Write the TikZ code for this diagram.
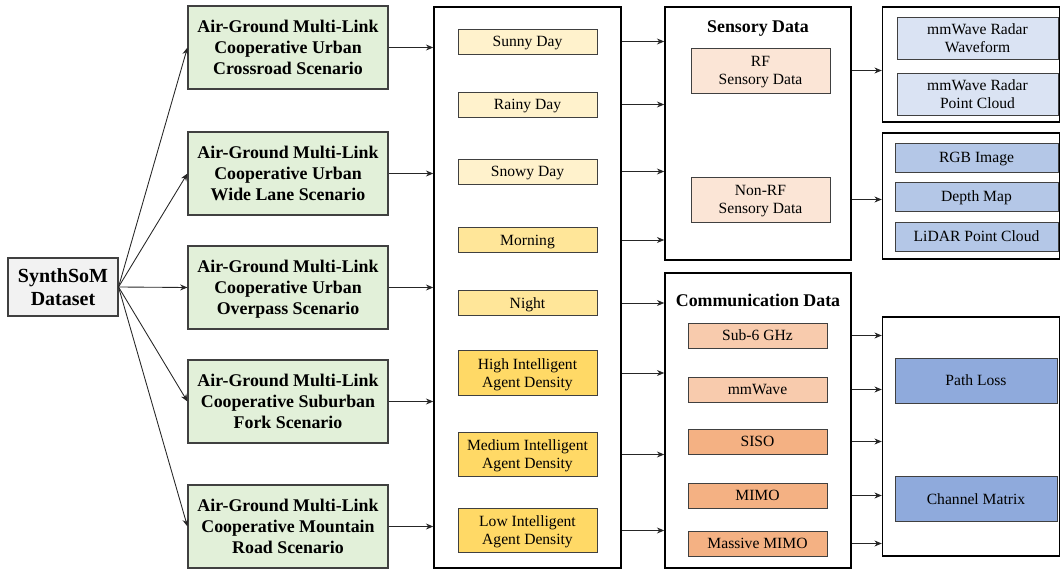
\documentclass[tikz,border=0pt]{standalone}
\usepackage{fontspec}
\setmainfont{Liberation Serif}
\usetikzlibrary{arrows.meta, positioning}
\definecolor{rootgray}{HTML}{F2F2F2}
\definecolor{scengreen}{HTML}{E2F0D9}
\definecolor{weatherlight}{HTML}{FFF2CC}
\definecolor{timemid}{HTML}{FFE699}
\definecolor{agentdark}{HTML}{FFD966}
\definecolor{sensepeach}{HTML}{FBE5D6}
\definecolor{bandpeach}{HTML}{F8CBAD}
\definecolor{antpeach}{HTML}{F4B183}
\definecolor{radarblue}{HTML}{DAE3F3}
\definecolor{visionblue}{HTML}{B4C7E7}
\definecolor{channelblue}{HTML}{8FAADC}
\tikzstyle{dataset} = [rectangle, draw=black!75, fill=rootgray, line width=0.8pt, minimum width=82.5pt, minimum height=43.5pt, text depth=0pt, align=center, font=\bfseries\fontsize{15}{17}\selectfont]
\tikzstyle{scenario} = [rectangle, draw=black!75, fill=scengreen, line width=0.8pt, minimum width=150pt, minimum height=62.25pt, text depth=0pt, align=center, font=\bfseries\fontsize{13.4}{15.75}\selectfont]
\tikzstyle{container} = [rectangle, draw=black, line width=1.1pt, minimum width=139.5pt]
\tikzstyle{item} = [rectangle, draw=black!75, line width=0.7pt, minimum width=104.25pt, minimum height=18.75pt, inner sep=1pt, text depth=0pt, align=center, font=\fontsize{11.7}{13.5}\selectfont]
\tikzstyle{result} = [item, minimum width=121.5pt]
\tikzstyle{title} = [text depth=0pt, font=\bfseries\fontsize{13.4}{15.75}\selectfont]
\tikzstyle{arrow} = [line width=0.65pt, draw=black!85, -{Stealth[length=5.5pt,width=4.5pt]}]

\begin{document}
\begin{tikzpicture}[x=0.75pt, y=-0.75pt]
\useasboundingbox (0,0) rectangle (1061,570);

% Dataset and scenarios
\node (synth) [dataset] at (63,287) {SynthSoM\\Dataset};
\node (crossroad) [scenario] at (288,47.5) {Air-Ground Multi-Link\\Cooperative Urban\\Crossroad Scenario};
\node (widelane) [scenario] at (288,173.5) {Air-Ground Multi-Link\\Cooperative Urban\\Wide Lane Scenario};
\node (overpass) [scenario] at (288,287.5) {Air-Ground Multi-Link\\Cooperative Urban\\Overpass Scenario};
\node (fork) [scenario] at (288,401.5) {Air-Ground Multi-Link\\Cooperative Suburban\\Fork Scenario};
\node (mountain) [scenario] at (288,526.5) {Air-Ground Multi-Link\\Cooperative Mountain\\Road Scenario};

% Conditions
\node (conditions) [container, minimum width=140.25pt, minimum height=420.75pt] at (527.5,287.5) {};
\node (sunny) [item, fill=weatherlight] at (527.5,41.5) {Sunny Day};
\node (rainy) [item, fill=weatherlight] at (527.5,104.5) {Rainy Day};
\node (snowy) [item, fill=weatherlight] at (527.5,171.5) {Snowy Day};
\node (morning) [item, fill=timemid] at (527.5,240) {Morning};
\node (night) [item, fill=timemid] at (527.5,303) {Night};
\node (high) [item, fill=agentdark, minimum height=33.5pt] at (527.5,373) {High Intelligent\\Agent Density};
\node (medium) [item, fill=agentdark, minimum height=33.5pt] at (527.5,454.5) {Medium Intelligent\\Agent Density};
\node (low) [item, fill=agentdark, minimum height=33.5pt] at (527.5,530.5) {Low Intelligent\\Agent Density};

% Sensory data
\node (sensory) [container, minimum height=189.75pt] at (758,133.5) {};
\node (sensTitle) [title] at (758,27) {Sensory Data};
\node (rf) [item, fill=sensepeach, minimum height=33.75pt] at (760.5,70.5) {RF\\Sensory Data};
\node (nonrf) [item, fill=sensepeach, minimum height=33.75pt] at (760.5,199.5) {Non-RF\\Sensory Data};

% Communication data
\node (comm) [container, minimum height=221.25pt] at (758,420.5) {};
\node (commTitle) [title] at (758,300) {Communication Data};
\node (sub6) [item, fill=bandpeach] at (757.5,335.5) {Sub-6 GHz};
\node (mmwave) [item, fill=bandpeach] at (757.5,389.5) {mmWave};
\node (siso) [item, fill=antpeach] at (757.5,441.5) {SISO};
\node (mimo) [item, fill=antpeach] at (757.5,495.5) {MIMO};
\node (massive) [item, fill=antpeach] at (757.5,543.5) {Massive MIMO};

% Modalities
\node (radar) [container, minimum width=132.75pt, minimum height=86.25pt] at (971,64.5) {};
\node (waveform) [result, fill=radarblue, minimum width=120.75pt, minimum height=31.5pt] at (977.5,38) {mmWave Radar\\Waveform};
\node (radarpc) [result, fill=radarblue, minimum width=120.75pt, minimum height=31.5pt] at (977.5,94) {mmWave Radar\\Point Cloud};
\node (vision) [container, minimum width=132.75pt, minimum height=94.5pt] at (971,196) {};
\node (rgb) [result, fill=visionblue, minimum width=122.25pt, minimum height=21.75pt] at (976.5,157.5) {RGB Image};
\node (depth) [result, fill=visionblue, minimum width=122.25pt, minimum height=21.75pt] at (976.5,196.5) {Depth Map};
\node (lidar) [result, fill=visionblue, minimum width=122.25pt, minimum height=21.75pt] at (976.5,236.5) {LiDAR Point Cloud};
\node (channel) [container, minimum width=132.75pt, minimum height=179.25pt] at (971,436.5) {};
\node (pathloss) [result, fill=channelblue, minimum height=33.75pt] at (976,380.5) {Path Loss};
\node (chmatrix) [result, fill=channelblue, minimum height=33.75pt] at (976,499) {Channel Matrix};

% Arrows
\foreach \s in {crossroad, widelane, overpass, fork, mountain} {
  \draw [arrow] (synth.east) -- (\s.west);
  \draw [arrow] (\s.east) -- (conditions.west |- \s);
}
\foreach \c in {sunny, rainy, snowy, morning}
  \draw [arrow] (conditions.east |- \c) -- (sensory.west |- \c);
\foreach \c in {night, high, medium, low}
  \draw [arrow] (conditions.east |- \c) -- (comm.west |- \c);
\draw [arrow] (sensory.east |- rf) -- (radar.west |- rf);
\draw [arrow] (sensory.east |- nonrf) -- (vision.west |- nonrf);
\foreach \c in {sub6, mmwave, siso, mimo, massive}
  \draw [arrow] (comm.east |- \c) -- (channel.west |- \c);

\end{tikzpicture}
\end{document}
